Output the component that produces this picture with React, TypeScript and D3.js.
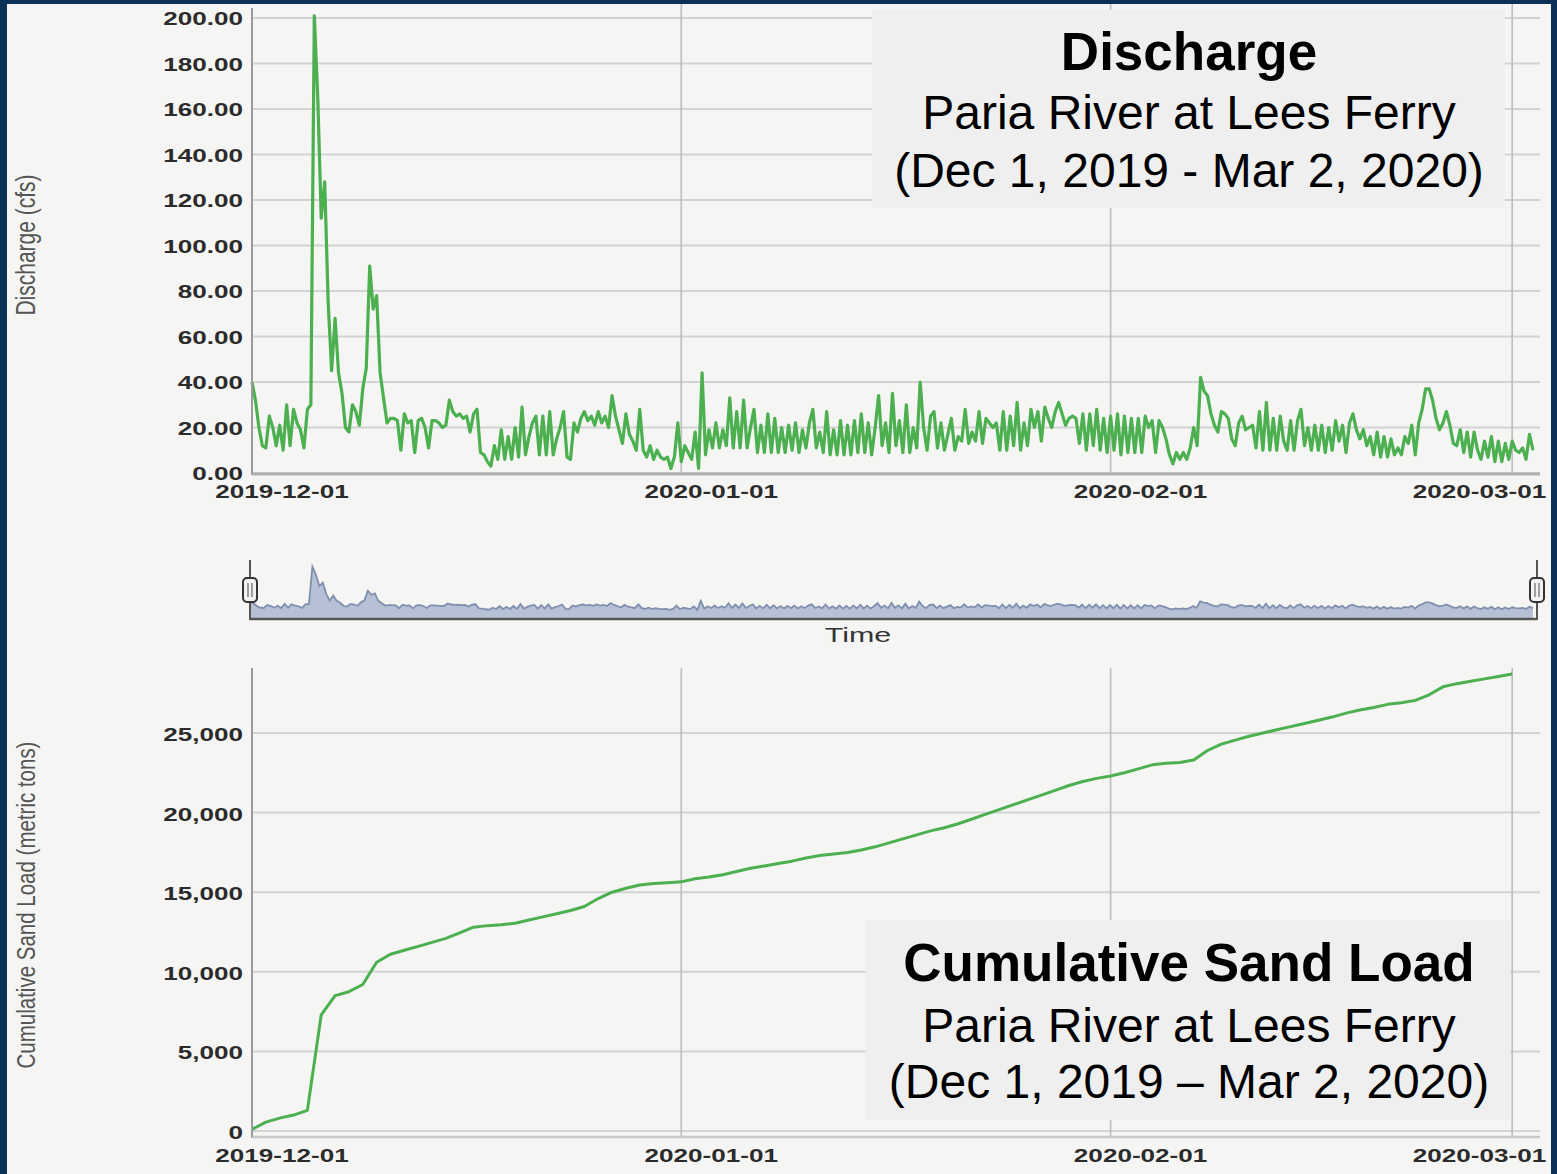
import React from "react";
import * as d3 from "d3";

// discharge (cfs), one reading every 6 hours from 2019-12-01 00:00 UTC
const dischargeStart = "2019-12-01T00:00:00Z";
const dischargeStepHours = 6;
const discharge = [
  40, 32, 20, 12, 11, 25, 20, 12, 21, 10, 30, 12, 28, 22, 19, 11, 28, 30, 201, 165,
  112, 128, 75, 45, 68, 44, 35, 20, 18, 30, 27, 21, 37, 46, 91, 72, 78, 44, 33, 22,
  24, 24, 23, 10, 26, 22, 23, 9, 23, 24, 20, 11,
  23, 23, 22, 20, 21, 32, 27, 25, 26, 24, 25, 18, 26, 28, 9, 8, 5, 3, 12, 6,
  19, 6, 16, 6, 20, 7, 29, 8, 16, 22, 25, 8, 25, 8, 27, 8, 15, 20, 27, 7,
  6, 22, 18, 24, 27, 23, 25, 21, 27, 22, 25, 20, 34, 25, 19, 13, 26, 17, 14, 10,
  28, 10, 7, 12, 6, 10, 7, 6, 7, 2, 7, 22, 5, 12, 9, 6, 18, 2, 44, 8,
  19, 11, 22, 11, 19, 12, 33, 11, 27, 11, 32, 11, 20, 28, 9, 21, 9, 26, 9, 24,
  9, 20, 9, 21, 10, 22, 9,
  19, 11, 22, 28, 11, 18, 9, 27, 8, 19, 8, 23, 8, 21, 8, 23, 9, 26, 9, 22,
  8, 20, 34, 12, 22, 9, 35, 12, 23, 9, 30, 9, 20, 11, 40, 20, 10, 25, 27, 11,
  22, 10, 17, 24, 10, 16, 14, 28, 13, 18, 14, 27, 13, 24, 22, 20, 22, 10, 27, 10,
  25, 12, 31, 10, 22, 12, 28, 20, 27, 14, 29, 24, 20, 27, 31, 26, 21, 24, 25, 24,
  13, 26, 10, 26, 12, 28, 10, 24, 9, 25, 10, 26, 8, 25, 9, 24, 9, 24, 9, 25,
  20, 23, 9, 23, 20, 15, 8, 4, 9, 6,
  9, 6, 11, 20, 12, 42, 36, 34, 26, 21, 18, 27, 26, 24, 15, 12, 22, 25, 19, 20,
  21, 11, 27, 10, 31, 10, 24, 10, 25, 14, 10, 23, 10, 23, 28, 12, 20, 10, 21, 10,
  21, 9, 20, 10, 23, 14, 21, 9, 22, 26, 19, 15, 19, 12, 16, 8, 18, 7, 16, 7,
  15, 8, 11, 8, 16, 13, 21, 8, 22, 28, 37, 37, 32, 24, 19, 22, 27, 21, 13, 12,
  19, 9, 18, 7, 18, 10, 6, 14, 7, 16, 5, 14, 5, 13, 6, 14, 10, 9, 11, 6,
  17, 10,
];

// cumulative sand load (metric tons), daily from 2019-12-01
const sandStart = "2019-12-01T00:00:00Z";
const sandLoad = [
  100, 560, 810, 1000, 1300, 7300, 8500, 8750, 9200, 10600,
  11100, 11350, 11600, 11850, 12100, 12450, 12800, 12900, 12950, 13050,
  13250, 13450, 13650, 13850, 14100, 14600, 15000, 15250, 15450, 15550,
  15600, 15650, 15850, 15950, 16100, 16300, 16500, 16650, 16800, 16950,
  17150, 17300, 17400, 17500, 17650, 17850, 18100, 18350, 18600, 18850,
  19050, 19300, 19600, 19900, 20200, 20500, 20800, 21100, 21400, 21700,
  21950, 22150, 22300, 22500, 22750, 23000, 23100, 23150, 23300, 23900,
  24300, 24550, 24800, 25000, 25200, 25400, 25600, 25800, 26000, 26250,
  26450, 26600, 26800, 26900, 27050, 27400, 27900, 28100, 28250, 28400,
  28550, 28700,
];

const dischargeTicks = [0, 20, 40, 60, 80, 100, 120, 140, 160, 180, 200];
const sandTicks = [0, 5000, 10000, 15000, 20000, 25000];
const dateTicks = ["2019-12-01", "2020-01-01", "2020-02-01", "2020-03-01"];

const topTitle = ["Discharge", "Paria River at Lees Ferry", "(Dec 1, 2019 - Mar 2, 2020)"];
const bottomTitle = ["Cumulative Sand Load", "Paria River at Lees Ferry", "(Dec 1, 2019 \u2013 Mar 2, 2020)"];

const W = 1557;
const H = 1174;
const FONT = "'Liberation Sans', Arial, Helvetica, sans-serif";
const STRETCH = 1.45;
const GREEN = "#4caf50";

export default function App() {
  const t0 = new Date(dischargeStart).getTime();
  const s0 = new Date(sandStart).getTime();
  const hour = 3600 * 1000;
  const qPts = discharge.map((v, i) => ({ t: new Date(t0 + i * dischargeStepHours * hour), v }));
  const sPts = sandLoad.map((v, i) => ({ t: new Date(s0 + i * 24 * hour), v }));

  const xDomain = [new Date("2019-12-01T00:00:00Z"), new Date("2020-03-02T19:00:00Z")];
  const x = d3.scaleUtc().domain(xDomain).range([252, 1537]);
  const xNav = d3.scaleUtc().domain(xDomain).range([250, 1537]);

  const yTop = d3.scaleLinear().domain([0, 200]).range([473, 18]);
  const yBot = d3.scaleLinear().domain([0, 25000]).range([1131, 733]);
  const yNav = d3.scaleLinear().domain([-40, 205]).range([619, 566]);

  const qLine = d3.line<any>().x((d) => x(d.t)).y((d) => yTop(d.v));
  const sLine = d3.line<any>().x((d) => x(d.t)).y((d) => yBot(d.v));
  const navArea = d3.area<any>().x((d) => xNav(d.t)).y0(yNav(-40)).y1((d) => yNav(d.v));
  const navLine = d3.line<any>().x((d) => xNav(d.t)).y((d) => yNav(d.v));

  const dates = dateTicks.map((s) => new Date(s + "T00:00:00Z"));
  const fmtQ = d3.format(".2f");
  const fmtS = d3.format(",");

  const labelW = 133;
  const dateLabelX = (d: Date) => Math.min(x(d) + 30, 1546 - labelW / 2);

  const tickText = (key: string, tx: number, ty: number, txt: string, anchor: string) => (
    <text
      key={key}
      transform={`translate(${tx},${ty}) scale(${STRETCH},1)`}
      textAnchor={anchor}
      dominantBaseline="central"
      fontFamily={FONT}
      fontWeight="bold"
      fontSize={18}
      fill="#2b2b2b"
    >
      {txt}
    </text>
  );

  const handle = (hx: number, key: string) => (
    <g key={key}>
      <line x1={hx} x2={hx} y1={560} y2={620} stroke="#555" strokeWidth={2} />
      <rect x={hx - 7} y={578} width={14} height={24} rx={4} fill="#f2f2f2" stroke="#333" strokeWidth={2} />
      <line x1={hx - 2} x2={hx - 2} y1={583} y2={597} stroke="#666" strokeWidth={1.2} />
      <line x1={hx + 2} x2={hx + 2} y1={583} y2={597} stroke="#666" strokeWidth={1.2} />
    </g>
  );

  return (
    <svg width={W} height={H} style={{ position: "absolute", left: 0, top: 0 }}>
      <rect x={0} y={0} width={W} height={H} fill="#0b3157" />
      <rect x={7} y={4} width={1544} height={H} fill="#f5f5f3" />

      {/* ---------- top: discharge ---------- */}
      {dischargeTicks.map((v) => (
        <line key={"gq" + v} x1={252} x2={1540} y1={yTop(v)} y2={yTop(v)} stroke="#d3d3d3" strokeWidth={2} />
      ))}
      {dates.slice(1).map((d, i) => (
        <line key={"vq" + i} x1={x(d)} x2={x(d)} y1={4} y2={473} stroke="#bdbdbd" strokeWidth={1.6} />
      ))}
      <rect x={872} y={10} width={633} height={198} fill="#efefef" />
      <path d={qLine(qPts) || ""} fill="none" stroke={GREEN} strokeWidth={3.2} strokeLinejoin="round" />
      <line x1={252} x2={252} y1={8} y2={475} stroke="#9a9a9a" strokeWidth={2} />
      <line x1={252} x2={1540} y1={474} y2={474} stroke="#b0b0b0" strokeWidth={3} />
      {dischargeTicks.map((v) => tickText("tq" + v, 243, yTop(v) + 1, fmtQ(v), "end"))}
      {dates.map((d, i) => tickText("dq" + i, dateLabelX(d), 492, dateTicks[i], "middle"))}
      <text
        transform={`translate(25,245) scale(1.3,1) rotate(-90)`}
        textAnchor="middle"
        dominantBaseline="central"
        fontFamily={FONT}
        fontSize={21}
        fill="#555"
      >
        Discharge (cfs)
      </text>
      <text x={1189} y={70} textAnchor="middle" fontFamily={FONT} fontWeight="bold" fontSize={53} fill="#000">
        {topTitle[0]}
      </text>
      <text x={1189} y={129} textAnchor="middle" fontFamily={FONT} fontSize={48} fill="#000">
        {topTitle[1]}
      </text>
      <text x={1189} y={187} textAnchor="middle" fontFamily={FONT} fontSize={48} fill="#000">
        {topTitle[2]}
      </text>

      {/* ---------- navigator ---------- */}
      <path d={navArea(qPts) || ""} fill="#b7c1d6" />
      <path d={navLine(qPts) || ""} fill="none" stroke="#7f8fae" strokeWidth={1.8} />
      <line x1={250} x2={1537} y1={619} y2={619} stroke="#555" strokeWidth={2.5} />
      {handle(250, "h1")}
      {handle(1537, "h2")}
      <text
        transform={`translate(858,635) scale(${STRETCH},1)`}
        textAnchor="middle"
        dominantBaseline="central"
        fontFamily={FONT}
        fontSize={21}
        fill="#333"
      >
        Time
      </text>

      {/* ---------- bottom: cumulative sand load ---------- */}
      {sandTicks.map((v) => (
        <line key={"gs" + v} x1={252} x2={1540} y1={yBot(v)} y2={yBot(v)} stroke="#d3d3d3" strokeWidth={2} />
      ))}
      {dates.slice(1).map((d, i) => (
        <line key={"vs" + i} x1={x(d)} x2={x(d)} y1={668} y2={1137} stroke="#bdbdbd" strokeWidth={1.6} />
      ))}
      <rect x={866} y={920} width={644} height={200} fill="#efefef" />
      <path d={sLine(sPts) || ""} fill="none" stroke={GREEN} strokeWidth={3} strokeLinejoin="round" />
      <line x1={252} x2={252} y1={668} y2={1138} stroke="#9a9a9a" strokeWidth={2} />
      <line x1={252} x2={1540} y1={1137} y2={1137} stroke="#c8c8c8" strokeWidth={2.5} />
      {sandTicks.map((v) => tickText("ts" + v, 243, yBot(v) + 2, fmtS(v), "end"))}
      {dates.map((d, i) => tickText("ds" + i, dateLabelX(d), 1156, dateTicks[i], "middle"))}
      <text
        transform={`translate(25,905) scale(1.3,1) rotate(-90)`}
        textAnchor="middle"
        dominantBaseline="central"
        fontFamily={FONT}
        fontSize={20.5}
        fill="#555"
      >
        Cumulative Sand Load (metric tons)
      </text>
      <text x={1189} y={981} textAnchor="middle" fontFamily={FONT} fontWeight="bold" fontSize={53} fill="#000">
        {bottomTitle[0]}
      </text>
      <text x={1189} y={1042} textAnchor="middle" fontFamily={FONT} fontSize={48} fill="#000">
        {bottomTitle[1]}
      </text>
      <text x={1189} y={1098} textAnchor="middle" fontFamily={FONT} fontSize={48} fill="#000">
        {bottomTitle[2]}
      </text>
    </svg>
  );
}
